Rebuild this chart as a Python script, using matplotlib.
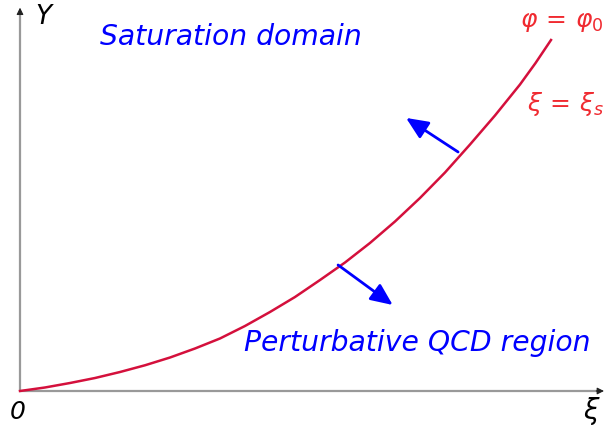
import numpy as np
import matplotlib
matplotlib.use('Agg')
import matplotlib.pyplot as plt

# boundary curve (xi, Y), both scaled to end at 1
xi = [0.0, 0.0471, 0.0942, 0.1412, 0.1883, 0.2354, 0.2825, 0.3296, 0.3766,
      0.4237, 0.4708, 0.5179, 0.5650, 0.6121, 0.6591, 0.7062, 0.7533, 0.8004,
      0.8475, 0.8945, 0.9416, 0.9708, 1.0]
Y = [0.0, 0.0100, 0.0228, 0.0370, 0.0541, 0.0733, 0.0954, 0.1211, 0.1496,
     0.1852, 0.2251, 0.2678, 0.3162, 0.3661, 0.4217, 0.4829, 0.5499, 0.6225,
     0.7023, 0.7849, 0.8732, 0.9342, 1.0]

# normal arrows: (start, tip)
arrow_out = [(0.599, 0.359), (0.702, 0.245)]
arrow_in = [(0.825, 0.681), (0.727, 0.778)]

curve_col = '#d4103c'
label_red = '#f02a30'
blue = '#0000ff'

fig = plt.figure(figsize=(6.11, 4.32), dpi=100)
ax = fig.add_axes([0, 0, 1, 1])
ax.set_xlim(-20/531, 591/531)
ax.set_ylim(-41/351, 391/351)
ax.axis('off')

# axes with arrow heads
ax.plot([0, 1.095], [0, 0], color='#999999', lw=1.6, solid_capstyle='butt')
ax.plot([0, 0], [0, 1.085], color='#999999', lw=1.6, solid_capstyle='butt')
ax.annotate('', xy=(1.105, 0), xytext=(1.08, 0),
            arrowprops=dict(arrowstyle='-|>', color='#222222', lw=0.8, mutation_scale=10))
ax.annotate('', xy=(0, 1.10), xytext=(0, 1.07),
            arrowprops=dict(arrowstyle='-|>', color='#222222', lw=0.8, mutation_scale=10))

ax.plot(xi, Y, color=curve_col, lw=1.8)

for (s, t) in [arrow_out, arrow_in]:
    ax.annotate('', xy=t, xytext=s,
                arrowprops=dict(arrowstyle='-|>,head_length=0.95,head_width=0.42',
                                color=blue, lw=2.0, mutation_scale=14, shrinkA=0, shrinkB=0))

ax.text(0.045, 1.066, 'Y', fontsize=19, style='italic', ha='center', va='center')
ax.text(-0.004, -0.06, '0', fontsize=18, style='italic', ha='center', va='center')
ax.text(1.077, -0.057, r'$\xi$', fontsize=20, ha='center', va='center')
ax.text(0.397, 1.009, 'Saturation domain', fontsize=20.3, style='italic',
        color=blue, ha='center', va='center')
ax.text(0.748, 0.137, 'Perturbative QCD region', fontsize=20.3, style='italic',
        color=blue, ha='center', va='center')
ax.text(1.021, 1.051, r'$\varphi\,=\,\varphi_0$', fontsize=18, color=label_red,
        ha='center', va='center')
ax.text(1.028, 0.818, r'$\xi\,=\,\xi_s$', fontsize=18, color=label_red,
        ha='center', va='center')

fig.savefig('out.png', dpi=100)
